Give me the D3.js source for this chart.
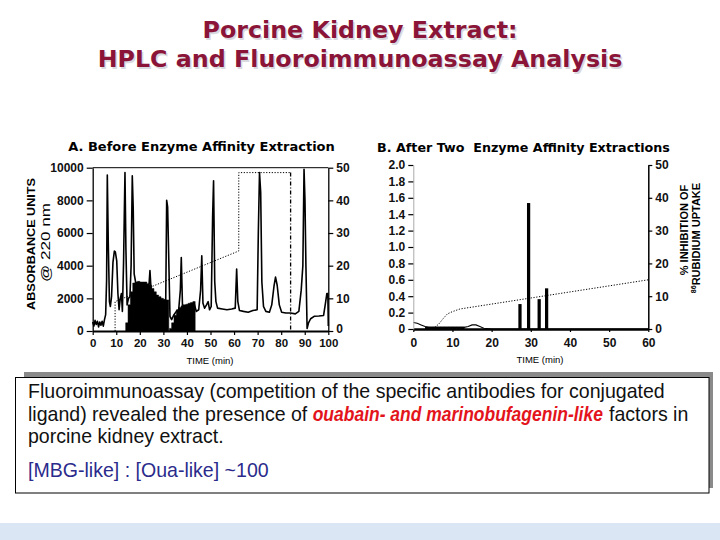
<!DOCTYPE html>
<html><head><meta charset="utf-8">
<script src="https://cdn.jsdelivr.net/npm/d3@7/dist/d3.min.js"></script>
<style>
html,body{margin:0;padding:0;background:#fff;}
svg{display:block;}
text{white-space:pre;}
</style></head>
<body>
<script>
// ---------------- DATA ----------------
const titleLines = ["Porcine Kidney Extract:", "HPLC and Fluoroimmunoassay Analysis"];
const panelATitle = "A. Before Enzyme Affinity Extraction";
const panelBTitle = "B. After Two  Enzyme Affinity Extractions";

// Panel A : absorbance trace (time in min, absorbance units @ 220 nm)
const timeA = [0,0.5,1,1.5,2,2.5,3,3.5,4,4.5,5,5.5,5.9,6.2,6.6,7.1,7.5,8,8.6,9.2,9.6,10.2,10.7,11.2,11.7,12.2,12.6,13.1,13.4,13.7,14.1,14.6,15.2,15.8,16.3,16.8,17.2,17.6,18.2,19,20,21,22,23,23.8,24.3,24.8,26,28,30,31,31.4,31.8,32.2,32.8,33.5,34.5,35.5,36.5,37.2,37.6,38.1,39,40,41,42,43,44,45,45.8,46.3,46.8,47.5,48.3,49,49.6,50.3,50.9,51.3,51.8,52.3,53,55,57,59,60.5,61.1,61.6,62.3,64,66,68,69.8,70.3,70.8,71.3,71.8,72.5,73.5,75,76,77,77.6,78.3,79.2,80.2,82,84,86,87.5,88.5,89.2,89.7,90.1,90.5,91,91.6,92.5,94,96,98,98.8,99.4,99.8,100];
const absA = [550,300,650,400,600,250,550,350,600,300,700,1000,3100,9550,5500,1800,1500,2100,4200,4900,4850,4300,2300,1300,2000,2300,1200,4200,7000,9700,5000,1600,2000,2100,4000,9500,7500,3500,3000,2800,2700,2600,2500,2500,2600,3700,2500,2200,1900,1800,1900,8000,7600,5000,900,700,1000,1200,1300,2500,4500,1600,1500,1550,1600,1650,1700,1200,1300,2500,4600,1700,1400,1600,1800,1300,1500,7000,9200,3000,1800,1400,1350,1300,1350,1400,3800,1800,1250,1200,1150,1250,1300,6000,9700,8500,3000,1500,1200,1150,1600,2800,3300,2800,1600,1150,1100,1100,1050,1200,2500,4000,9900,8000,4000,150,500,750,900,920,950,1700,2300,2300,300];

// Panel A : % inhibition of rubidium uptake per fraction (black histogram)
const fracStartA = [14,15,16,17,18,19,20,21,22,23,24,25,26,27,28,29,30,31,32.6,33.5,34.5,35.5,36.5,37.5,38.5,39.5,40.5,41.5,42.5];
const fracEndA   = [15,16,17,18,19,20,21,22,23,24,25,26,27,28,29,30,31,32.3,33.5,34.5,35.5,36.5,37.5,38.5,39.5,40.5,41.5,42.5,43.5];
const inhibA     = [2.5,8,12,14.7,15,15.2,15,15,15,14.5,14,13,12,11,10.5,10,9.7,9.5,0.8,2.5,4.8,6.5,7.2,7.7,8,8.2,8.5,8.7,9];

// Panel A : dotted gradient trace (right-axis scale)
const gradTimeA = [9.5,9.5,62,62,84];
const gradValA  = [0,9,24.5,48.5,48.5];
const stepTimeA = [84,84];
const stepValA  = [48.5,0];

// Panel B : absorbance trace
const timeB = [0,1,2,3,4,6,8,10,12,13,14,15,16,17,18,20,30,40,50,60];
const absB  = [0.08,0.07,0.05,0.03,0.02,0.02,0.02,0.02,0.02,0.02,0.03,0.05,0.05,0.03,0.01,0,0,0,0,0];
// Panel B : inhibition fractions
const fracTimeB = [3.5,4.5,5.5,6.5,7.5,8.5,9.5,10.5,11.5,12.5,27.2,29.4,32.1,34.0];
const inhibB    = [0.7,0.7,0.7,0.7,0.7,0.7,0.7,0.7,0.7,0.7,7.6,38.4,9.1,12.4];
const fracWidthB = [1,1,1,1,1,1,1,1,1,1,0.75,0.75,0.75,0.75];
// Panel B : dotted gradient
const gradTimeB = [4.9,6.5,7.5,8.7,10,11.9,60];
const gradValB  = [0,1.5,3,4.6,5.3,6.1,15];

// Tick labels
const ticksAx = [0,10,20,30,40,50,60,70,80,90,100];
const ticksAy = [0,2000,4000,6000,8000,10000];
const ticksR  = [0,10,20,30,40,50];
const ticksBx = [0,10,20,30,40,50,60];
const ticksBy = [0,0.2,0.4,0.6,0.8,1.0,1.2,1.4,1.6,1.8,2.0];

const boxLine1 = "Fluoroimmunoassay (competition of the specific antibodies for conjugated";
const boxLine2a = "ligand) revealed the presence of ";
const boxRed = "ouabain- and marinobufagenin-like";
const boxLine2b = "factors in";
const boxLine3 = "porcine kidney extract.";
const boxLine4 = "[MBG-like] : [Oua-like] ~100";

// ---------------- DRAW ----------------
const W = 720, H = 540;
const svg = d3.select("body").append("svg").attr("width", W).attr("height", H);

function fitWidth(sel, w) {
  const l = sel.node().getComputedTextLength();
  const fs = parseFloat(sel.attr("font-size"));
  const nfs = fs * w / l;
  sel.attr("font-size", nfs);
  return nfs;
}

// bottom band
svg.append("rect").attr("x", 0).attr("y", 523).attr("width", W).attr("height", H - 523).attr("fill", "#dbe6f4");

// Title
const titleFont = "'DejaVu Sans', Verdana, sans-serif";
const tl2s = svg.append("text").attr("x", 361.5).attr("y", 68.5).attr("text-anchor", "middle")
  .attr("font-family", titleFont).attr("font-weight", "bold").attr("font-size", 22).attr("fill", "#d9d9e0").text(titleLines[1]);
const tl2 = svg.append("text").attr("x", 360).attr("y", 67).attr("text-anchor", "middle")
  .attr("font-family", titleFont).attr("font-weight", "bold").attr("font-size", 22).attr("fill", "#8b1538").text(titleLines[1]);
const tfs = fitWidth(tl2, 525);
tl2s.attr("font-size", tfs);
svg.append("text").attr("x", 361.5).attr("y", 39.5).attr("text-anchor", "middle")
  .attr("font-family", titleFont).attr("font-weight", "bold").attr("font-size", tfs).attr("fill", "#d9d9e0").text(titleLines[0]);
svg.append("text").attr("x", 360).attr("y", 38).attr("text-anchor", "middle")
  .attr("font-family", titleFont).attr("font-weight", "bold").attr("font-size", tfs).attr("fill", "#8b1538").text(titleLines[0]);

const tickFont = "'Liberation Sans Narrow', 'Liberation Sans', Arial, sans-serif";
const labFont = "'Liberation Sans', Arial, sans-serif";

function styleAxis(g, fs) {
  g.selectAll("text").attr("font-family", tickFont).attr("font-weight", "bold").attr("font-size", fs).attr("fill", "#111");
  g.selectAll("line").attr("stroke", "#000").attr("stroke-width", 1.2);
}

// ---------- Panel A ----------
const xA = d3.scaleLinear().domain([0, 100]).range([92.7, 328.3]);
const yA = d3.scaleLinear().domain([0, 10000]).range([331, 167.7]);
const yAr = d3.scaleLinear().domain([0, 50]).range([331, 167.7]);

const pA = svg.append("g");
// fraction histogram as stepped areas (contiguous groups)
const groupsA = [];
let cur = [];
inhibA.forEach((v, i) => {
  cur.push({t: fracStartA[i], v: v});
  const contiguous = i < inhibA.length - 1 && Math.abs(fracEndA[i] - fracStartA[i + 1]) < 1e-9;
  if (!contiguous) { cur.push({t: fracEndA[i], v: v}); groupsA.push(cur); cur = []; }
});
const areaA = d3.area().curve(d3.curveStepAfter).x(d => xA(d.t)).y0(yAr(0)).y1(d => yAr(d.v));
pA.selectAll("path.fa").data(groupsA).join("path").attr("class", "fa")
  .attr("d", areaA).attr("fill", "#000").attr("stroke", "#000").attr("stroke-width", 0.5);
// gradient dotted
const lineGA = d3.line().x((d, i) => xA(gradTimeA[i])).y(d => yAr(d));
pA.append("path").attr("d", lineGA(gradValA)).attr("fill", "none").attr("stroke", "#000")
  .attr("stroke-width", 1).attr("stroke-dasharray", "1.2,1.6");
const lineSA = d3.line().x((d, i) => xA(stepTimeA[i])).y(d => yAr(d));
pA.append("path").attr("d", lineSA(stepValA)).attr("fill", "none").attr("stroke", "#000")
  .attr("stroke-width", 1.3).attr("stroke-dasharray", "4,2,1,2");
// trace
const lineA = d3.line().x((d, i) => xA(timeA[i])).y(d => yA(d));
pA.append("path").attr("d", lineA(absA)).attr("fill", "none").attr("stroke", "#000")
  .attr("stroke-width", 1.6).attr("stroke-linejoin", "round");
// frame top
pA.append("line").attr("x1", xA(0)).attr("x2", xA(100)).attr("y1", yA(10000)).attr("y2", yA(10000))
  .attr("stroke", "#000").attr("stroke-width", 1);

const axAx = pA.append("g").attr("transform", `translate(0,${yA(0)})`)
  .call(d3.axisBottom(xA).tickValues(ticksAx).tickSizeInner(4).tickSizeOuter(0).tickPadding(4).tickFormat(d3.format("d")));
styleAxis(axAx, 11.5);
axAx.select(".domain").attr("stroke", "#000").attr("stroke-width", 2.2);
const axAy = pA.append("g").attr("transform", `translate(${xA(0)},0)`)
  .call(d3.axisLeft(yA).tickValues(ticksAy).tickSizeInner(6).tickSizeOuter(0).tickPadding(3).tickFormat(d3.format("d")));
styleAxis(axAy, 12);
axAy.select(".domain").attr("stroke", "#000").attr("stroke-width", 1.3);
const axAr = pA.append("g").attr("transform", `translate(${xA(100)},0)`)
  .call(d3.axisRight(yAr).tickValues(ticksR).tickSizeInner(5).tickSizeOuter(0).tickPadding(3).tickFormat(d3.format("d")));
styleAxis(axAr, 12);
axAr.select(".domain").attr("stroke", "#000").attr("stroke-width", 1.3);
axAr.selectAll(".tick").filter(d => d === 0).select("text").attr("dy", "0.15em");

const ptA = pA.append("text").attr("x", 201.5).attr("y", 150.5).attr("text-anchor", "middle")
  .attr("font-family", titleFont).attr("font-weight", "bold").attr("font-size", 12).attr("fill", "#000").text(panelATitle);
fitWidth(ptA, 267);
pA.append("text").attr("x", 210).attr("y", 364).attr("text-anchor", "middle")
  .attr("font-family", tickFont).attr("font-size", 9.5).attr("fill", "#000").text("TIME (min)");
pA.append("text").attr("transform", "translate(31,244) rotate(-90)").attr("text-anchor", "middle")
  .attr("dominant-baseline", "central").attr("font-family", labFont).attr("font-weight", "bold")
  .attr("font-size", 11.5).attr("textLength", 132).attr("lengthAdjust", "spacingAndGlyphs")
  .attr("fill", "#000").text("ABSORBANCE UNITS");
pA.append("text").attr("transform", "translate(46,242.5) rotate(-90)").attr("text-anchor", "middle")
  .attr("dominant-baseline", "central").attr("font-family", labFont)
  .attr("font-size", 12).attr("textLength", 79).attr("lengthAdjust", "spacingAndGlyphs")
  .attr("fill", "#000").text("@ 220 nm");

// ---------- Panel B ----------
const xB = d3.scaleLinear().domain([0, 60]).range([413.3, 648.3]);
const yB = d3.scaleLinear().domain([0, 2]).range([329, 165]);
const yBr = d3.scaleLinear().domain([0, 50]).range([329, 165]);
const pB = svg.append("g");

pB.selectAll("rect.fb").data(inhibB).join("rect")
  .attr("x", (d, i) => xB(fracTimeB[i]) - (xB(fracWidthB[i]) - xB(0)) / 2)
  .attr("width", (d, i) => xB(fracWidthB[i]) - xB(0) + 0.3)
  .attr("y", d => yBr(d))
  .attr("height", d => yBr(0) - yBr(d))
  .attr("fill", "#000");
const lineGB = d3.line().x((d, i) => xB(gradTimeB[i])).y(d => yBr(d));
pB.append("path").attr("d", lineGB(gradValB)).attr("fill", "none").attr("stroke", "#000")
  .attr("stroke-width", 1).attr("stroke-dasharray", "1.2,1.6");
const lineB = d3.line().x((d, i) => xB(timeB[i])).y(d => yB(d));
pB.append("path").attr("d", lineB(absB)).attr("fill", "none").attr("stroke", "#000").attr("stroke-width", 1.1);

const axBx = pB.append("g").attr("transform", `translate(0,${yB(0)})`)
  .call(d3.axisBottom(xB).tickValues(ticksBx).tickSizeInner(3).tickSizeOuter(0).tickPadding(6).tickFormat(d3.format("d")));
styleAxis(axBx, 12);
axBx.select(".domain").attr("stroke", "#000").attr("stroke-width", 2.6);
const axBy = pB.append("g").attr("transform", `translate(${xB(0)},0)`)
  .call(d3.axisLeft(yB).tickValues(ticksBy).tickSizeInner(5).tickSizeOuter(0).tickPadding(3).tickFormat(d3.format(".1f")));
styleAxis(axBy, 12);
axBy.selectAll("text").text(d => d === 0 ? "0" : d3.format(".1f")(d));
axBy.select(".domain").attr("stroke", "#aaa").attr("stroke-width", 1);
const axBr = pB.append("g").attr("transform", `translate(${xB(60)},0)`)
  .call(d3.axisRight(yBr).tickValues(ticksR).tickSizeInner(4).tickSizeOuter(0).tickPadding(3).tickFormat(d3.format("d")));
styleAxis(axBr, 12);
axBr.select(".domain").attr("stroke", "#000").attr("stroke-width", 1.5);

const ptB = pB.append("text").attr("x", 523.5).attr("y", 152).attr("text-anchor", "middle")
  .attr("font-family", titleFont).attr("font-weight", "bold").attr("font-size", 12).attr("fill", "#000").text(panelBTitle);
fitWidth(ptB, 293);
pB.append("text").attr("x", 540).attr("y", 363).attr("text-anchor", "middle")
  .attr("font-family", tickFont).attr("font-size", 9.5).attr("fill", "#000").text("TIME (min)");
pB.append("text").attr("transform", "translate(684,230) rotate(-90)").attr("text-anchor", "middle")
  .attr("dominant-baseline", "central").attr("font-family", labFont).attr("font-weight", "bold")
  .attr("font-size", 11).attr("fill", "#000").text("% INHIBITION OF");
const rb = pB.append("text").attr("transform", "translate(696,238) rotate(-90)").attr("text-anchor", "middle")
  .attr("dominant-baseline", "central").attr("font-family", labFont).attr("font-weight", "bold")
  .attr("font-size", 11).attr("fill", "#000");
rb.append("tspan").attr("font-size", 7).attr("dy", -3).text("86");
rb.append("tspan").attr("dy", 3).text("RUBIDIUM UPTAKE");

// ---------- Text box ----------
svg.append("rect").attr("x", 24).attr("y", 372).attr("width", 689).attr("height", 116).attr("fill", "#8a8a8a");
svg.append("rect").attr("x", 15.5).attr("y", 377.5).attr("width", 693.5).attr("height", 115.5)
  .attr("fill", "#fff").attr("stroke", "#000").attr("stroke-width", 1);

const boxFont = "'Liberation Sans', Arial, sans-serif";
const l1 = svg.append("text").attr("x", 28).attr("y", 398).attr("font-family", boxFont).attr("font-size", 18).attr("fill", "#111").text(boxLine1);
const bfs = fitWidth(l1, 637);
// line 2 in three pieces so the red emphasis keeps the reference's width
const l2a = svg.append("text").attr("x", 28).attr("y", 420.5).attr("font-family", boxFont).attr("font-size", bfs).attr("fill", "#111").text(boxLine2a);
const redX = 28 + l2a.node().getComputedTextLength();
const redW = 603 - redX;
const red = svg.append("text").attr("x", 0).attr("y", 0).attr("font-family", boxFont).attr("font-size", bfs)
  .attr("font-weight", "bold").attr("font-style", "italic").attr("fill", "#e3141c").text(boxRed);
const redNat = red.node().getComputedTextLength();
red.attr("transform", `translate(${redX},420.5) scale(${redW / redNat},1)`);
svg.append("text").attr("x", 609).attr("y", 420.5).attr("font-family", boxFont).attr("font-size", bfs).attr("fill", "#111").text(boxLine2b);
svg.append("text").attr("x", 28).attr("y", 443).attr("font-family", boxFont).attr("font-size", bfs).attr("fill", "#111").text(boxLine3);
svg.append("text").attr("x", 28).attr("y", 477).attr("font-family", boxFont).attr("font-size", bfs).attr("fill", "#2b2b8c").text(boxLine4);
</script>
</body></html>
